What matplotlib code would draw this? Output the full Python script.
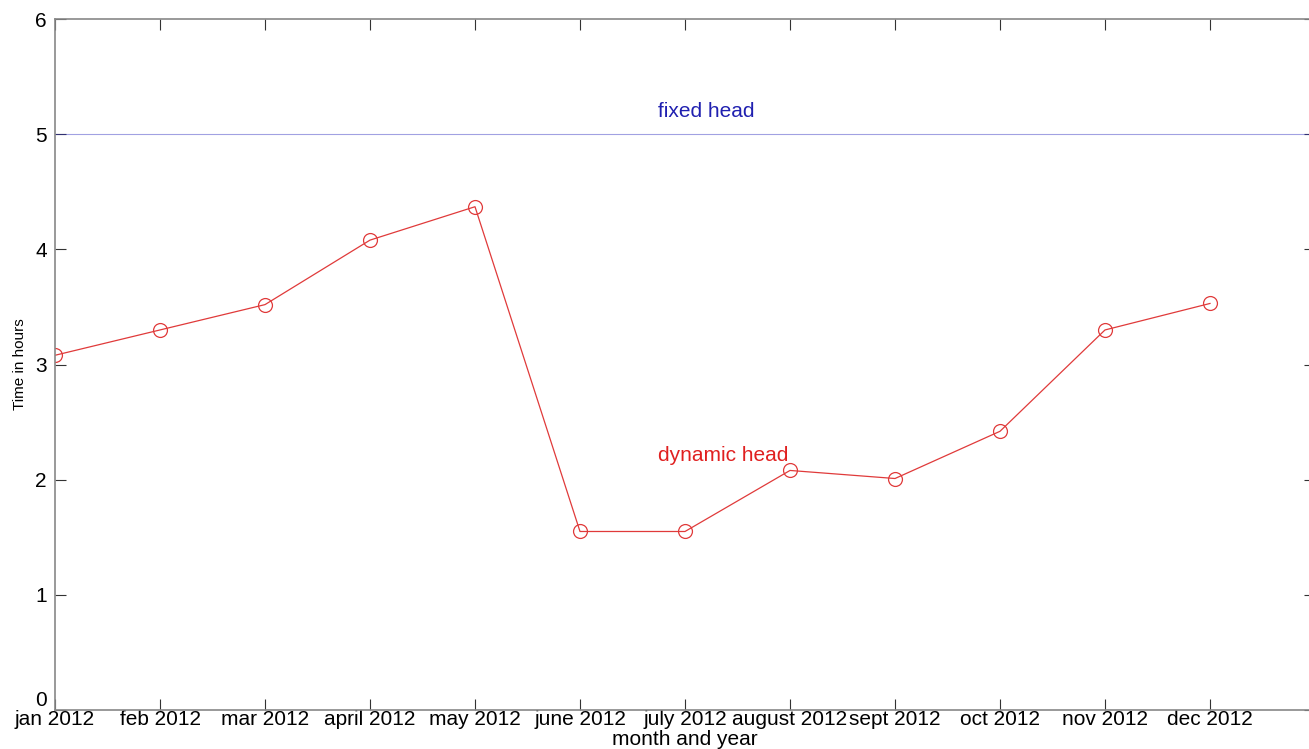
import numpy as np
import matplotlib.pyplot as plt

# donnees
mois = ['jan 2012', 'feb 2012', 'mar 2012', 'april 2012', 'may 2012', 'june 2012',
        'july 2012', 'august 2012', 'sept 2012', 'oct 2012', 'nov 2012', 'dec 2012']
dynamic_head = [3.08, 3.30, 3.52, 4.08, 4.37, 1.55, 1.55, 2.08, 2.01, 2.42, 3.30, 3.53]
fixed_head = 5.0

plt.rcParams['font.family'] = ['Liberation Sans', 'DejaVu Sans']

fig = plt.figure(figsize=(13.09, 7.49), dpi=100)
ax = fig.add_axes([55 / 1309, 39 / 749, 1260 / 1309, 691 / 749])

x = np.arange(1, len(mois) + 1)
ax.axhline(fixed_head, color='#3030c0', lw=0.8, alpha=0.45)
ax.plot(x, dynamic_head, color='#e03a3a', lw=0.9, marker='o', ms=10,
        mfc='none', mec='#e03a3a', mew=0.9)

ax.text(6.74, 5.2, 'fixed head', color='#2020b0', fontsize=15, va='center')
ax.text(6.74, 2.21, 'dynamic head', color='#e02020', fontsize=15, va='center')

ax.set_xlim(1, 13)
ax.set_ylim(0, 6)
ax.set_xticks(x)
ax.set_xticklabels(mois)
ax.set_yticks(range(7))
ax.tick_params(direction='in', length=8, width=0.8, top=True, right=True,
               labelsize=15, pad=0, color='#333333')
ax.tick_params(axis='y', pad=6)
for s in ax.spines.values():
    s.set_color('#888888')
    s.set_linewidth(1.2)

# le "0" est un peu remonte, comme sur l'original
ax.get_yticklabels()[0].set_va('bottom')

ax.set_xlabel('month and year', fontsize=15, labelpad=1)
ax.set_ylabel('Time in hours', fontsize=11, labelpad=6)

fig.savefig('out.png', dpi=100)
